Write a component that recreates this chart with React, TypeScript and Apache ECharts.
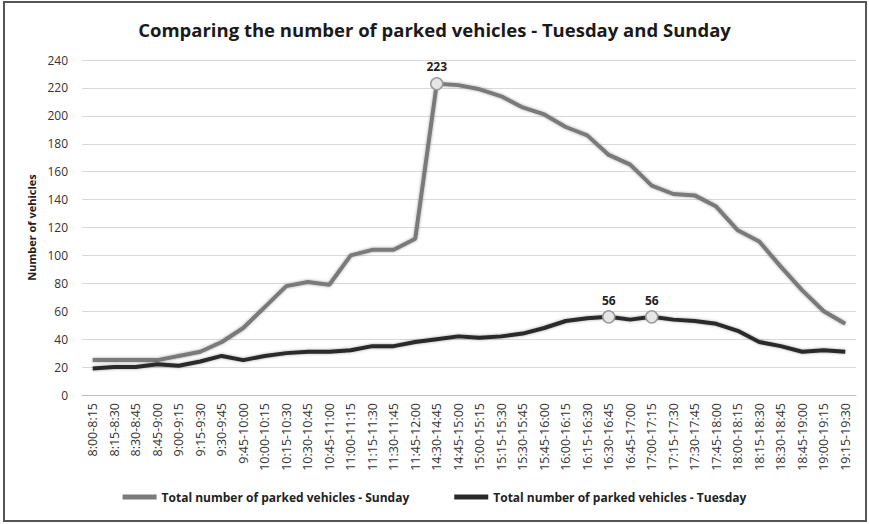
import React, { useEffect, useRef } from "react";
import * as echarts from "echarts";

const categories = [
  "8:00-8:15", "8:15-8:30", "8:30-8:45", "8:45-9:00", "9:00-9:15", "9:15-9:30",
  "9:30-9:45", "9:45-10:00", "10:00-10:15", "10:15-10:30", "10:30-10:45", "10:45-11:00",
  "11:00-11:15", "11:15-11:30", "11:30-11:45", "11:45-12:00", "14:30-14:45", "14:45-15:00",
  "15:00-15:15", "15:15-15:30", "15:30-15:45", "15:45-16:00", "16:00-16:15", "16:15-16:30",
  "16:30-16:45", "16:45-17:00", "17:00-17:15", "17:15-17:30", "17:30-17:45", "17:45-18:00",
  "18:00-18:15", "18:15-18:30", "18:30-18:45", "18:45-19:00", "19:00-19:15", "19:15-19:30",
];

const sunday = [
  25, 25, 25, 25, 28, 31, 38, 48, 63, 78, 81, 79,
  100, 104, 104, 112, 223, 222, 219, 214, 206, 201, 192, 186,
  172, 165, 150, 144, 143, 135, 118, 110, 92, 75, 60, 51,
];

const tuesday = [
  19, 20, 20, 22, 21, 24, 28, 25, 28, 30, 31, 31,
  32, 35, 35, 38, 40, 42, 41, 42, 44, 48, 53, 55,
  56, 54, 56, 54, 53, 51, 46, 38, 35, 31, 32, 31,
];

const sundayLabeled = [16];
const tuesdayLabeled = [24, 26];

const yTicks = { min: 0, max: 240, interval: 20 };

function decorate(values: number[], labeled: number[]) {
  return values.map((v, i) =>
    labeled.includes(i)
      ? {
          value: v,
          symbol: "circle",
          symbolSize: 12,
          itemStyle: { color: "#e6e6e6", borderColor: "#9a9a9a", borderWidth: 1.5 },
          label: { show: true },
        }
      : v
  );
}

export default function App() {
  const ref = useRef<HTMLDivElement>(null);
  useEffect(() => {
    if (!ref.current) return;
    const chart = echarts.init(ref.current, null, { renderer: "svg" });
    const font = "'Open Sans', sans-serif";
    const labelCfg = {
      show: false,
      position: "top",
      distance: 4,
      fontFamily: font,
      fontWeight: "bold",
      fontSize: 12,
      color: "#222",
    };
    chart.setOption({
      animation: false,
      backgroundColor: "#fff",
      title: {
        text: "Comparing the number of parked vehicles - Tuesday and Sunday",
        left: "center",
        top: 15,
        textStyle: { fontFamily: font, fontWeight: "bold", fontSize: 18.5, color: "#1a1a1a" },
      },
      graphic: [
        {
          type: "rect",
          shape: { x: 4, y: 2, width: 862, height: 519 },
          style: { fill: "none", stroke: "#555", lineWidth: 2 },
          silent: true,
        },
      ],
      grid: { left: 82, right: 13, top: 60, bottom: 129, containLabel: false },
      legend: {
        bottom: 16,
        left: "center",
        itemGap: 45,
        icon: "rect",
        itemWidth: 34,
        itemHeight: 5,
        textStyle: { fontFamily: font, fontWeight: "bold", fontSize: 12, color: "#222" },
        data: ["Total number of parked vehicles - Sunday", "Total number of parked vehicles - Tuesday"],
      },
      xAxis: {
        type: "category",
        data: categories,
        boundaryGap: true,
        axisLine: { lineStyle: { color: "#bfbfbf" } },
        axisTick: { show: false },
        axisLabel: { rotate: 90, interval: 0, fontFamily: font, fontSize: 12.5, color: "#333", margin: 8 },
      },
      yAxis: {
        type: "value",
        min: yTicks.min,
        max: yTicks.max,
        interval: yTicks.interval,
        name: "Number of vehicles",
        nameLocation: "middle",
        nameGap: 45,
        nameTextStyle: { fontFamily: font, fontWeight: "bold", fontSize: 11, color: "#222" },
        axisLine: { show: false },
        axisTick: { show: false },
        axisLabel: { fontFamily: font, fontSize: 12, color: "#333", margin: 14 },
        splitLine: { lineStyle: { color: "#d9d9d9", width: 1 } },
      },
      series: [
        {
          name: "Total number of parked vehicles - Sunday",
          type: "line",
          data: decorate(sunday, sundayLabeled),
          symbol: "none",
          color: "#7a7a7a",
          lineStyle: { color: "#7a7a7a", width: 4, shadowBlur: 3, shadowColor: "rgba(0,0,0,0.35)" },
          label: labelCfg,
          z: 2,
        },
        {
          name: "Total number of parked vehicles - Tuesday",
          type: "line",
          data: decorate(tuesday, tuesdayLabeled),
          symbol: "none",
          color: "#2a2a2a",
          lineStyle: { color: "#2a2a2a", width: 4, shadowBlur: 3, shadowColor: "rgba(0,0,0,0.35)" },
          label: labelCfg,
          z: 3,
        },
      ],
    });
    return () => chart.dispose();
  }, []);
  return (
    <div
      ref={ref}
      style={{ position: "absolute", left: 0, top: 0, width: 869, height: 524 }}
    />
  );
}
